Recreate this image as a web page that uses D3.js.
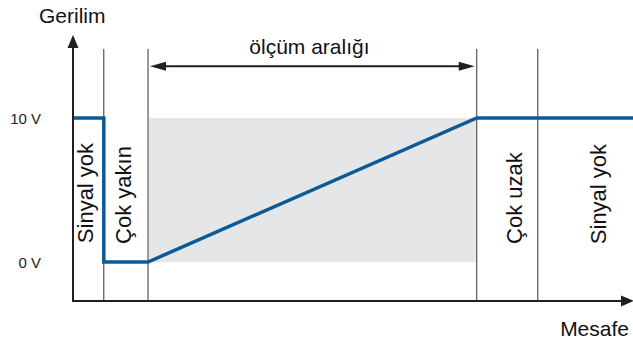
<!DOCTYPE html>
<html>
<head>
<meta charset="utf-8">
<script src="https://cdn.jsdelivr.net/npm/d3@7"></script>
<style>
  body { margin: 0; background: #fff; }
  svg { display: block; font-family: "Liberation Sans", Arial, sans-serif; }
</style>
</head>
<body>
<div id="chart"></div>
<script>
// distances in arbitrary units along the x axis (0..100), voltages in V
const boundaries = [5.5, 13.4, 72.1, 83.0];
const signalX = [0, 5.5, 5.5, 13.4, 72.1, 100];
const signalV = [10, 10, 0, 0, 10, 10];
const yTicks = [0, 10];
const yTickLabels = ["0 V", "10 V"];
const zoneLabels = ["Sinyal yok", "Çok yakın", "Çok uzak", "Sinyal yok"];
const zoneLabelX = [3.57, 10.36, 80.18, 95.18];
const zoneLabelV = [4.79, 4.65, 4.44, 4.72];
const rangeLabel = "ölçüm aralığı";
const yTitle = "Gerilim";
const xTitle = "Mesafe";

const w = 633, h = 345;
const svg = d3.select('#chart').append('svg')
  .attr('width', w).attr('height', h);

const xScale = d3.scaleLinear().domain([0, 100]).range([73, 633]);
const yScale = d3.scaleLinear().domain([0, 10]).range([262, 118]);
const yMin = -2.7;      // where x axis sits
const yTop = 15.76;     // arrow tip of y axis
const lineTop = 14.8;   // top of the zone separators
const arrowV = 13.6;    // height of the measuring range arrow

const ink = '#231f20';

function arrowHead(x, y, angle, len, half) {
  svg.append('path')
    .attr('d', 'M0,0 L' + (-len) + ',' + (-half) + ' L' + (-len) + ',' + half + 'Z')
    .attr('transform', 'translate(' + x + ',' + y + ') rotate(' + angle + ')')
    .attr('fill', ink);
}

// measuring range background
svg.append('rect')
  .attr('x', xScale(boundaries[1]) + 1)
  .attr('y', yScale(10))
  .attr('width', xScale(boundaries[2]) - xScale(boundaries[1]) - 2)
  .attr('height', yScale(0) - yScale(10))
  .attr('fill', '#e5e6e8');

// zone separators
svg.selectAll('line.sep')
  .data(boundaries)
  .enter()
  .append('line')
  .attr('class', 'sep')
  .attr('x1', d => xScale(d)).attr('x2', d => xScale(d))
  .attr('y1', yScale(lineTop)).attr('y2', yScale(yMin))
  .attr('stroke', '#333').attr('stroke-width', 1);

// signal
const pts = signalX.map((x, i) => [x, signalV[i]]);
svg.append('path')
  .datum(pts)
  .attr('d', d3.line().x(d => xScale(d[0])).y(d => yScale(d[1])))
  .attr('fill', 'none')
  .attr('stroke', '#0b5a96')
  .attr('stroke-width', 3.5)
  .attr('stroke-linejoin', 'miter');

// axes
svg.append('line')
  .attr('x1', xScale(0)).attr('x2', xScale(0))
  .attr('y1', yScale(yMin) + 1).attr('y2', yScale(yTop) + 8)
  .attr('stroke', ink).attr('stroke-width', 2);
arrowHead(xScale(0), yScale(yTop), -90, 13, 5.5);

svg.append('line')
  .attr('x1', xScale(0) - 1).attr('x2', xScale(100) - 8)
  .attr('y1', yScale(yMin)).attr('y2', yScale(yMin))
  .attr('stroke', ink).attr('stroke-width', 2);
arrowHead(xScale(100) + 1, yScale(yMin), 0, 13, 5.5);

// measuring range arrow
const ax1 = xScale(boundaries[1]) + 2, ax2 = xScale(boundaries[2]) - 2;
svg.append('line')
  .attr('x1', ax1 + 10).attr('x2', ax2 - 10)
  .attr('y1', yScale(arrowV)).attr('y2', yScale(arrowV))
  .attr('stroke', ink).attr('stroke-width', 2);
arrowHead(ax1, yScale(arrowV), 180, 16, 4.5);
arrowHead(ax2, yScale(arrowV), 0, 16, 4.5);

svg.append('text')
  .text(rangeLabel)
  .attr('x', (ax1 + ax2) / 2 - 3)
  .attr('y', yScale(arrowV) - 12)
  .attr('text-anchor', 'middle')
  .attr('font-size', 21)
  .attr('fill', '#111');

// tick labels
svg.selectAll('text.tick')
  .data(yTicks)
  .enter()
  .append('text')
  .attr('class', 'tick')
  .text((d, i) => yTickLabels[i])
  .attr('x', 41)
  .attr('y', d => yScale(d) + 6)
  .attr('text-anchor', 'end')
  .attr('font-size', 15)
  .attr('fill', '#222');

// zone labels, rotated
svg.selectAll('text.zone')
  .data(zoneLabels)
  .enter()
  .append('text')
  .attr('class', 'zone')
  .text(d => d)
  .attr('transform', (d, i) => 'translate(' + xScale(zoneLabelX[i]) + ',' + yScale(zoneLabelV[i]) + ') rotate(-90)')
  .attr('text-anchor', 'middle')
  .attr('font-size', 22)
  .attr('fill', '#111');

// axis titles
svg.append('text')
  .text(yTitle)
  .attr('x', 39).attr('y', 23)
  .attr('font-size', 21)
  .attr('fill', '#111');

svg.append('text')
  .text(xTitle)
  .attr('x', 629).attr('y', 336)
  .attr('text-anchor', 'end')
  .attr('font-size', 21)
  .attr('fill', '#111');
</script>
</body>
</html>
